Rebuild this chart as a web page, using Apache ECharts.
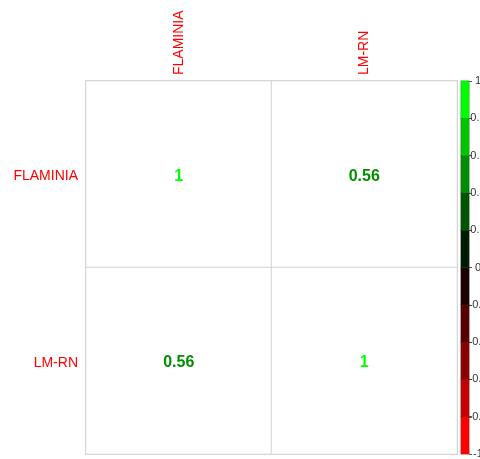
<!DOCTYPE html>
<html>
<head>
<meta charset="utf-8">
<script src="https://cdn.jsdelivr.net/npm/echarts@6/dist/echarts.min.js"></script>
<style>html,body{margin:0;padding:0;background:#fff;}#c{width:480px;height:459px;}</style>
</head>
<body>
<div id="c"></div>
<script>
var variables = ['FLAMINIA', 'LM-RN'];
var corrRow1 = [1, 0.56];
var corrRow2 = [0.56, 1];
var legendBreaks = [-1, -0.8, -0.6, -0.4, -0.2, 0, 0.2, 0.4, 0.6, 0.8, 1];

// red -> black -> green palette of 10 colours
function paletteColor(i) {
  var t = i / 9;
  var r = 0, g = 0;
  if (t < 0.5) r = Math.round(255 * (1 - 2 * t)); else g = Math.round(255 * (2 * t - 1));
  return 'rgb(' + r + ',' + g + ',0)';
}
function valueColor(v) {
  var idx = Math.floor((v + 1) / 0.2 + 1e-9);
  if (idx > 9) idx = 9; if (idx < 0) idx = 0;
  return paletteColor(idx);
}

var matrix = [corrRow1, corrRow2];
var cellData = [];
matrix.forEach(function (row, r) {
  row.forEach(function (v, c) {
    cellData.push({ value: [c, r, v], label: { color: valueColor(v) } });
  });
});

var binNames = [];
var binData = [];
for (var i = 0; i < legendBreaks.length - 1; i++) {
  binNames.push(String(i));
  binData.push({ value: [0, i, (legendBreaks[i] + legendBreaks[i + 1]) / 2], itemStyle: { color: paletteColor(i) } });
}

var font = 'Liberation Sans, Arial, sans-serif';
var chart = echarts.init(document.getElementById('c'));
chart.setOption({
  animation: false,
  backgroundColor: '#fff',
  grid: [
    { left: 86, top: 81, right: 23, bottom: 5, show: true, borderColor: '#d3d3d3', borderWidth: 2, outerBoundsMode: 'none', containLabel: false },
    { left: 461, width: 8, top: 81, bottom: 5, outerBoundsMode: 'none', containLabel: false }
  ],
  xAxis: [
    {
      type: 'category', data: variables, position: 'top', gridIndex: 0,
      axisLine: { show: false }, axisTick: { show: false }, splitLine: { show: false },
      axisLabel: { rotate: -90, color: '#ff0000', fontSize: 14, fontFamily: font, margin: 6 }
    },
    { type: 'category', data: [''], gridIndex: 1, show: false }
  ],
  yAxis: [
    {
      type: 'category', data: variables, inverse: true, gridIndex: 0,
      axisLine: { show: false }, axisTick: { show: false }, splitLine: { show: false },
      axisLabel: { color: '#ff0000', fontSize: 14, fontFamily: font, margin: 8,
        formatter: function (v) { return '{s|' + v + '}'; },
        rich: { s: { color: '#ff0000', fontSize: 14, fontFamily: font, padding: [4, 0, 0, 0] } } }
    },
    { type: 'category', data: binNames, gridIndex: 1, show: false },
    {
      type: 'value', gridIndex: 1, min: -1, max: 1, interval: 0.2, position: 'right',
      axisLine: { show: false }, splitLine: { show: false },
      axisTick: { show: true, length: 3, lineStyle: { color: '#555' } },
      axisLabel: { color: '#333', fontSize: 11, fontFamily: font, margin: 9, align: 'center',
        formatter: function (v) { return String(Math.round(v * 10) / 10); } }
    }
  ],
  series: [
    {
      type: 'heatmap', xAxisIndex: 0, yAxisIndex: 0, data: cellData,
      itemStyle: { color: '#fff', borderColor: '#d3d3d3', borderWidth: 1 },
      label: { show: true, fontSize: 16, fontWeight: 'bold', fontFamily: font, offset: [0, 2],
        formatter: function (p) { return String(p.value[2]); } },
      emphasis: { disabled: true }
    },
    {
      type: 'heatmap', xAxisIndex: 1, yAxisIndex: 1, data: binData,
      itemStyle: { borderColor: 'rgba(60,60,60,0.6)', borderWidth: 0.5 },
      emphasis: { disabled: true }
    }
  ]
});
</script>
</body>
</html>
